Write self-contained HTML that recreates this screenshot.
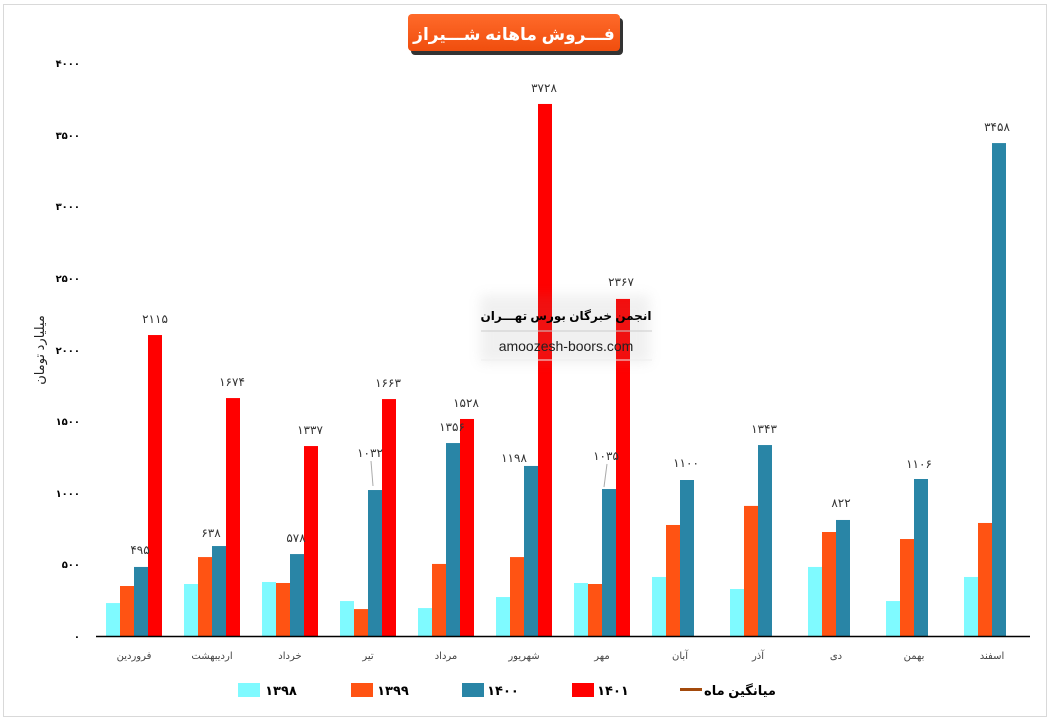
<!DOCTYPE html>
<html><head><meta charset="utf-8"><style>
body{margin:0;background:#fff;}
svg text{font-family:"Liberation Sans","Noto Sans CJK SC","DejaVu Sans",sans-serif;}
</style></head><body>
<svg width="1051" height="722" viewBox="0 0 1051 722" xmlns="http://www.w3.org/2000/svg">
<rect x="3.5" y="4.5" width="1043" height="712" fill="#fff" stroke="#d9d9d9"/>
<defs><linearGradient id="tg" x1="0" y1="0" x2="0" y2="1"><stop offset="0" stop-color="#ff6a2a"/><stop offset="1" stop-color="#f04e0e"/></linearGradient>
<filter id="sh" x="-20%" y="-50%" width="140%" height="200%"><feGaussianBlur stdDeviation="6"/></filter></defs>
<rect x="411" y="18" width="212" height="37" rx="4" fill="#333"/>
<rect x="408" y="14" width="212" height="37" rx="4" fill="url(#tg)"/>
<text x="514" y="40" text-anchor="middle" font-size="17" font-weight="bold" fill="#fff">فـــروش ماهانه شـــیراز</text>
<g font-size="10" fill="#000" text-anchor="end" font-weight="bold">
<text x="80" y="67">۴۰۰۰</text><text x="80" y="139">۳۵۰۰</text><text x="80" y="210">۳۰۰۰</text><text x="80" y="282">۲۵۰۰</text><text x="80" y="354">۲۰۰۰</text><text x="80" y="425">۱۵۰۰</text><text x="80" y="497">۱۰۰۰</text><text x="80" y="568">۵۰۰</text><text x="80" y="640">۰</text>
</g>
<text transform="translate(44,350) rotate(-90)" text-anchor="middle" font-size="13" fill="#222">میلیارد تومان</text>
<g id="bars"></g>
<line x1="96" y1="636.5" x2="1030" y2="636.5" stroke="#000" stroke-width="1.5"/>
<g font-size="13" fill="#000" text-anchor="middle" font-weight="bold">
<rect x="238" y="683" width="22" height="14" fill="#7ffaff"/><text x="281" y="695">۱۳۹۸</text>
<rect x="351" y="683" width="22" height="14" fill="#ff5313"/><text x="393" y="695">۱۳۹۹</text>
<rect x="462" y="683" width="22" height="14" fill="#2985a6"/><text x="503" y="695">۱۴۰۰</text>
<rect x="572" y="683" width="22" height="14" fill="#ff0000"/><text x="613" y="695">۱۴۰۱</text>
<rect x="680" y="688" width="22" height="3" fill="#a34a0c"/><text x="740" y="695">میانگین ماه</text>
</g>
<rect x="480" y="295" width="170" height="68" fill="#888" opacity="0.12" filter="url(#sh)"/>
<line x1="481" y1="331" x2="652" y2="331" stroke="#ccc"/>
<line x1="481" y1="360" x2="652" y2="360" stroke="#eee"/>
<text x="566" y="320" text-anchor="middle" font-size="12" font-weight="bold" fill="#000">انجمن خبرگان بورس تهـــران</text>
<text x="566" y="351" text-anchor="middle" font-size="14" fill="#222">amoozesh-boors.com</text>
</svg>
<script>
const d=[
["فروردین",230,349,482,2101,"۴۹۵",140,549,"۲۱۱۵",155,318],
["اردیبهشت",363,551,628,1661,"۶۳۸",211,532,"۱۶۷۴",232,381],
["خرداد",377,370,572,1326,"۵۷۸",296,537,"۱۳۳۷",310,429],
["تیر",244,188,1019,1654,"۱۰۳۲",370,452,"۱۶۶۳",388,382],
["مرداد",195,503,1347,1515,"۱۳۵۶",452,426,"۱۵۲۸",466,402],
["شهریور",272,551,1187,3714,"۱۱۹۸",514,457,"۳۷۲۸",544,87],
["مهر",370,363,1026,2353,"۱۰۳۵",606,455,"۲۳۶۷",621,281],
["آبان",412,775,1089,0,"۱۱۰۰",686,462],
["آذر",328,908,1333,0,"۱۳۴۳",764,428],
["دی",482,726,810,0,"۸۲۲",841,502],
["بهمن",244,677,1096,0,"۱۱۰۶",919,463],
["اسفند",412,789,3441,0,"۳۴۵۸",997,126]];
const cols=["#7ffaff","#ff5313","#2985a6","#ff0000"];
let s="";const k=0.14325,b=636;
d.forEach((r,i)=>{const c=134+78*i;const x0=c-28;
for(let j=0;j<4;j++){const v=r[j+1];if(!v)continue;const h=v*k;s+=`<rect x="${x0+14*j}" y="${b-h}" width="14" height="${h}" fill="${cols[j]}"/>`;}
s+=`<text x="${c}" y="659" text-anchor="middle" font-size="10" fill="#444">${r[0]}</text>`;
s+=`<text x="${r[6]}" y="${r[7]+5}" text-anchor="middle" font-size="12" fill="#333">${r[5]}</text>`;
if(r[8])s+=`<text x="${r[9]}" y="${r[10]+5}" text-anchor="middle" font-size="12" fill="#333">${r[8]}</text>`;
});
s+=`<line x1="371" y1="461" x2="373" y2="486" stroke="#aaa"/><line x1="607" y1="464" x2="604" y2="487" stroke="#aaa"/>`;
document.getElementById("bars").insertAdjacentHTML("beforeend",s);
</script>
</body></html>
